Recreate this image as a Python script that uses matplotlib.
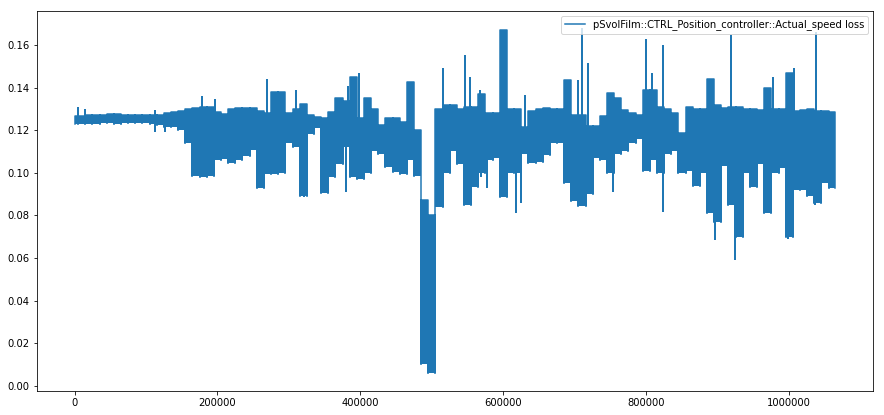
import matplotlib
matplotlib.use("Agg")
import matplotlib.pyplot as plt
import numpy as np

# envelope of the signal, one bin every 10000 samples
env_x = np.arange(0, 1070000, 10000)
env_hi = [0.1265, 0.1265, 0.1270, 0.1270, 0.1272, 0.1274, 0.1274, 0.1272, 0.1272, 0.1272,
          0.1272, 0.1270, 0.1272, 0.1280, 0.1285, 0.1290, 0.1300, 0.1305, 0.1310, 0.1310,
          0.1285, 0.1275, 0.1300, 0.1305, 0.1305, 0.1305, 0.1290, 0.1280, 0.1380, 0.1380,
          0.1280, 0.1300, 0.1325, 0.1270, 0.1260, 0.1255, 0.1285, 0.1350, 0.1335, 0.1451,
          0.1255, 0.1350, 0.1300, 0.1224, 0.1255, 0.1255, 0.1240, 0.1427, 0.1200, 0.0870,
          0.0800, 0.1300, 0.1320, 0.1320, 0.1300, 0.1310, 0.1310, 0.1370, 0.1280, 0.1280,
          0.1670, 0.1300, 0.1300, 0.1216, 0.1290, 0.1300, 0.1305, 0.1300, 0.1300, 0.1435,
          0.1270, 0.1270, 0.1220, 0.1220, 0.1265, 0.1373, 0.1350, 0.1295, 0.1280, 0.1270,
          0.1390, 0.1390, 0.1310, 0.1300, 0.1280, 0.1186, 0.1310, 0.1300, 0.1300, 0.1440,
          0.1318, 0.1305, 0.1310, 0.1310, 0.1300, 0.1300, 0.1295, 0.1396, 0.1300, 0.1300,
          0.1470, 0.1290, 0.1295, 0.1300, 0.1290, 0.1290, 0.1285]
env_lo = [0.1228, 0.1228, 0.1230, 0.1230, 0.1232, 0.1232, 0.1230, 0.1232, 0.1232, 0.1234,
          0.1232, 0.1230, 0.1226, 0.1215, 0.1215, 0.1200, 0.1140, 0.0985, 0.0980, 0.0985,
          0.1060, 0.1065, 0.1045, 0.1060, 0.1080, 0.1105, 0.0930, 0.0995, 0.0995, 0.1000,
          0.1140, 0.1120, 0.0890, 0.1180, 0.1210, 0.0905, 0.0980, 0.1040, 0.1120, 0.0980,
          0.0970, 0.0999, 0.1100, 0.1090, 0.1025, 0.1005, 0.0995, 0.1060, 0.0985, 0.0100,
          0.0060, 0.0840, 0.1000, 0.1100, 0.1040, 0.0850, 0.0935, 0.1000, 0.1060, 0.1070,
          0.0887, 0.1000, 0.1000, 0.1090, 0.1045, 0.1050, 0.1085, 0.1140, 0.1140, 0.0950,
          0.0865, 0.0845, 0.0900, 0.1070, 0.1060, 0.1000, 0.1090, 0.1100, 0.1140, 0.1160,
          0.1010, 0.1060, 0.1000, 0.1090, 0.1100, 0.1000, 0.1010, 0.0940, 0.1000, 0.0810,
          0.0770, 0.1030, 0.0850, 0.0700, 0.1000, 0.0934, 0.1040, 0.0810, 0.1000, 0.1020,
          0.0700, 0.0920, 0.0920, 0.0890, 0.0860, 0.0950, 0.0930]

# narrow single spikes
spike_x = [5000, 15000, 112000, 178000, 196000, 270000, 310000, 382000, 398000, 515600,
           547000, 553000, 568000, 630000, 704000, 710000, 719000, 799000, 808000, 824000,
           918000, 977000, 1006000, 1037000,
           112000, 126000, 321000, 380000, 569000, 577000, 617000, 625000, 753000, 823000,
           896000, 924000, 968000, 998000, 1036000]
spike_y = [0.1307, 0.1300, 0.1297, 0.1360, 0.1348, 0.1438, 0.1390, 0.1407, 0.1470, 0.1490,
           0.1553, 0.1448, 0.1388, 0.1365, 0.1435, 0.1680, 0.1514, 0.1630, 0.1467, 0.1600,
           0.1647, 0.1450, 0.1490, 0.1662,
           0.1190, 0.1193, 0.0888, 0.0911, 0.0981, 0.0927, 0.0810, 0.0860, 0.0910, 0.0817,
           0.0684, 0.0590, 0.0810, 0.0690, 0.0850]

label = "pSvolFilm::CTRL_Position_controller::Actual_speed loss"
c = "#1f77b4"
half = 5000
x_end = 1064000

fig = plt.figure(figsize=(884 / 72, 415 / 72), dpi=72)
ax = fig.add_axes([36.5 / 884, 24 / 415, 836.5 / 884, 380.5 / 415])

lo = np.asarray(env_lo)
hi = np.asarray(env_hi)
# bin edges, clipped to the sample range
edges = np.clip(np.column_stack([env_x - half, env_x + half]), 0, x_end)
xe = edges.ravel()
ax.fill_between(xe, np.repeat(lo, 2), np.repeat(hi, 2), color=c, lw=0)

# outline of each bin: up the left edge, across, down the right edge
xs = edges[:, [0, 0, 1, 1]].ravel()
ys = np.column_stack([lo, hi, hi, lo]).ravel()
ax.plot(xs, ys, color=c, lw=1.5, label=label)

# spikes start from the middle of the band of the bin they sit in
idx = np.clip(np.round(np.asarray(spike_x) / 10000).astype(int), 0, len(env_x) - 1)
ax.vlines(spike_x, (lo[idx] + hi[idx]) / 2, spike_y, color=c, lw=2)

ax.set_xlim(-53200, 1117200)
ax.set_ylim(-0.0025, 0.1762)
ax.set_yticks(np.arange(0, 0.17, 0.02))
ax.yaxis.set_major_formatter(matplotlib.ticker.FormatStrFormatter("%.2f"))
ax.ticklabel_format(axis="x", style="plain", useOffset=False)
ax.legend(loc="upper right")

plt.savefig("out.png", dpi=72)
